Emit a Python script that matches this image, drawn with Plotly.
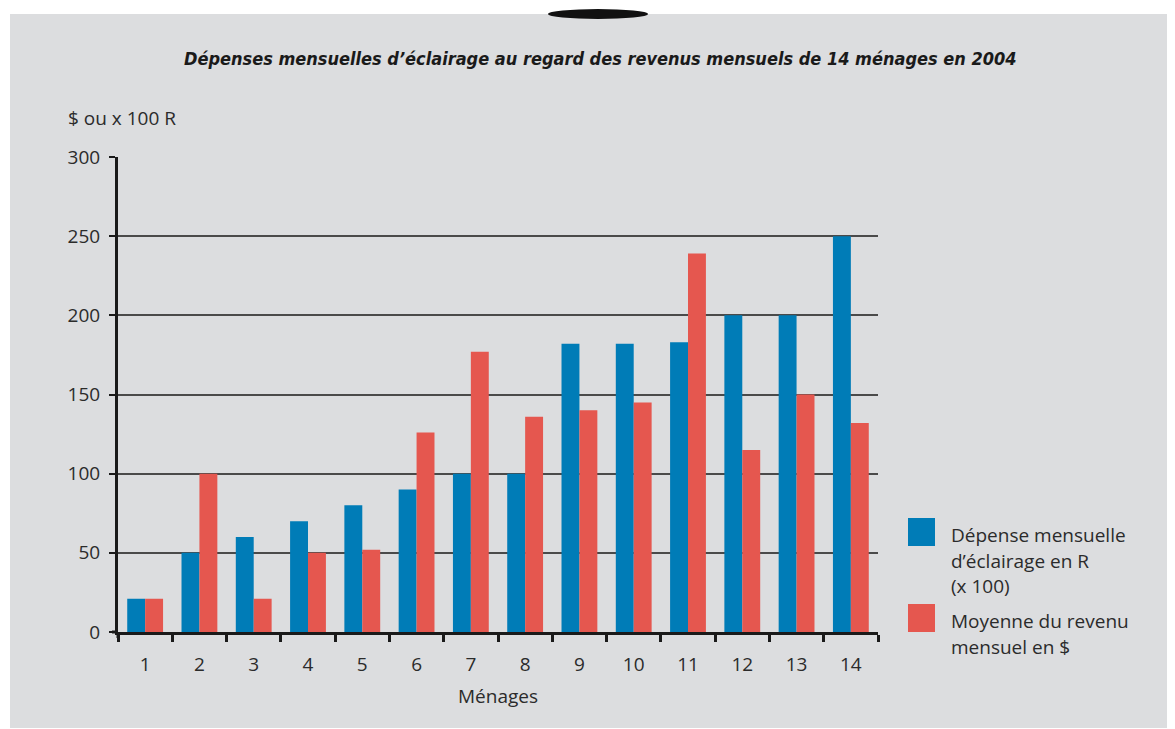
import plotly.graph_objects as go

categories = [str(i) for i in range(1, 15)]
depense_eclairage = [21, 50, 60, 70, 80, 90, 100, 100, 182, 182, 183, 200, 200, 250]
revenu_moyen = [21, 100, 21, 50, 52, 126, 177, 136, 140, 145, 239, 115, 150, 132]
series_names = ["Dépense mensuelle d’éclairage en R (x 100)", "Moyenne du revenu mensuel en $"]
legend_lines = [["Dépense mensuelle", "d’éclairage en R", "(x 100)"],
                ["Moyenne du revenu", "mensuel en $"]]
title_text = "Dépenses mensuelles d’éclairage au regard des revenus mensuels de 14 ménages en 2004"
y_label = "$ ou x 100 R"
x_label = "Ménages"

BLUE = "#007cb7"
RED = "#e5574f"
BG = "#dcdddf"
TXT = "#2b2b2b"

OFF = 8  # page body margin offset
W, H = 1175, 729
L, R, T, B = 118 - OFF, 878 - OFF, 157 - OFF, 632 - OFF


def px(x):
    return (x - OFF - L) / (R - L)


def py(y):
    return (B - (y - OFF)) / (B - T)


fig = go.Figure()
fig.add_trace(go.Bar(x=categories, y=depense_eclairage, name=series_names[0],
                     marker=dict(color=BLUE, line=dict(width=0)), showlegend=False))
fig.add_trace(go.Bar(x=categories, y=revenu_moyen, name=series_names[1],
                     marker=dict(color=RED, line=dict(width=0)), showlegend=False))

shapes = [
    dict(type="rect", xref="paper", yref="paper", x0=px(10), x1=px(1190), y0=py(728), y1=py(14),
         fillcolor=BG, line=dict(width=0), layer="below"),
    dict(type="circle", xref="paper", yref="paper", x0=px(548), x1=px(648), y0=py(19), y1=py(9),
         fillcolor="#111111", line=dict(width=0), layer="above"),
    dict(type="rect", xref="paper", yref="paper", x0=px(908), x1=px(935), y0=py(546), y1=py(518),
         fillcolor=BLUE, line=dict(width=0)),
    dict(type="rect", xref="paper", yref="paper", x0=px(908), x1=px(935), y0=py(632), y1=py(604),
         fillcolor=RED, line=dict(width=0)),
    dict(type="line", xref="paper", yref="paper", x0=px(112), x1=px(118), y0=0, y1=0,
         line=dict(color="#1a1a1a", width=3)),
    dict(type="line", xref="paper", yref="paper", x0=0, x1=0, y0=py(638), y1=0,
         line=dict(color="#1a1a1a", width=3)),
]

annotations = [
    dict(text=f"<b><i>{title_text}</i></b>", xref="paper", yref="paper", x=px(600), y=py(58),
         xanchor="center", yanchor="middle", showarrow=False,
         font=dict(family="DejaVu Sans Condensed, Liberation Sans Narrow, sans-serif", size=18, color="#1a1a1a")),
    dict(text=y_label, xref="paper", yref="paper", x=px(66), y=py(118), xanchor="left", yanchor="middle",
         showarrow=False, font=dict(family="Open Sans", size=19, color=TXT)),
]
legend_y = [[535, 561, 586], [621, 647]]
for lines, ys in zip(legend_lines, legend_y):
    for t, yy in zip(lines, ys):
        annotations.append(dict(text=t, xref="paper", yref="paper", x=px(949), y=py(yy),
                                xanchor="left", yanchor="middle", showarrow=False,
                                font=dict(family="Open Sans", size=19, color=TXT)))

fig.update_layout(
    width=W, height=H,
    margin=dict(l=L, r=W - R, t=T, b=H - B, pad=0),
    paper_bgcolor="white", plot_bgcolor="rgba(0,0,0,0)",
    barmode="group", bargap=0.34, bargroupgap=0,
    font=dict(family="Open Sans", size=19, color=TXT),
    shapes=shapes, annotations=annotations,
    xaxis=dict(type="category", showgrid=False, showline=True, linecolor="#1a1a1a", linewidth=3,
               ticks="outside", tickson="boundaries", ticklen=7, tickwidth=3, tickcolor="#1a1a1a",
               ticklabelstandoff=13, tickfont=dict(size=19, color=TXT),
               title=dict(text=x_label, font=dict(size=19, color=TXT), standoff=14)),
    yaxis=dict(range=[0, 300], dtick=50, showgrid=True, gridcolor="#4a4a4a", gridwidth=2,
               showline=True, linecolor="#1a1a1a", linewidth=3, zeroline=False,
               ticks="outside", ticklen=6, tickwidth=2, tickcolor="#1a1a1a",
               ticklabelstandoff=5, tickfont=dict(size=19, color=TXT)),
)

fig.write_html("out.html")
